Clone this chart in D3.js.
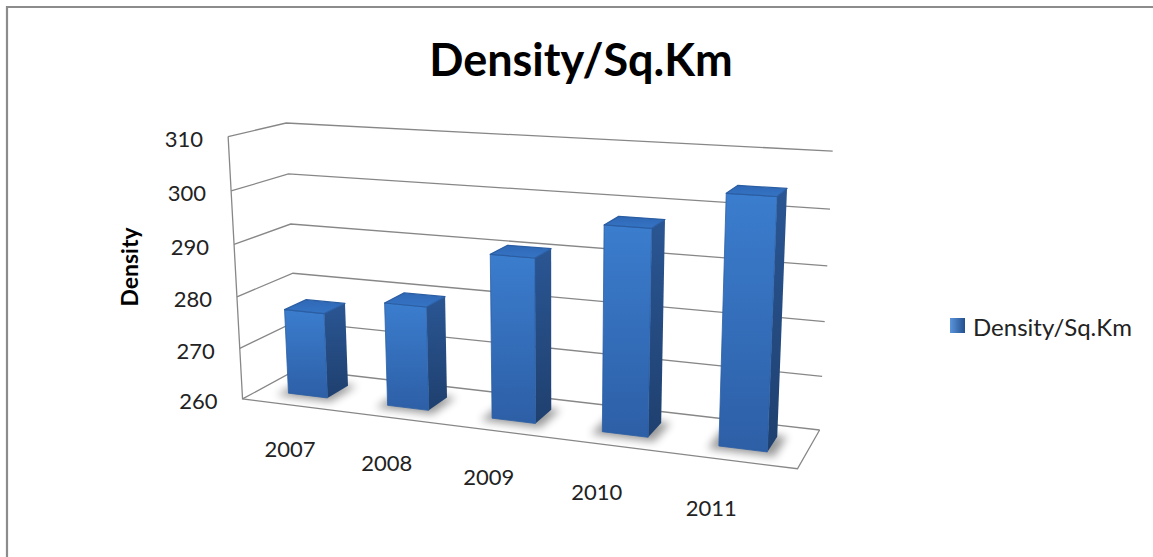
<!DOCTYPE html>
<html>
<head>
<meta charset="utf-8">
<script src="https://cdn.jsdelivr.net/npm/d3@7"></script>
<style>
body { margin: 0; background: #fff; }
svg { display: block; font-family: Lato, "Open Sans", sans-serif; }
</style>
</head>
<body>
<div id="chart"></div>
<script>
// Data
var years = ["2007", "2008", "2009", "2010", "2011"];
var density = [276.6, 279.8, 290.6, 297.4, 304.2];
var yTicks = [260, 270, 280, 290, 300, 310];
var seriesName = "Density/Sq.Km";

// Measurement
var w = 1153, h = 557;

// where the corners of the 3D box sit on screen: [u, v, depth, x, y]
var anchors = [
	[0, 1, 0, 227, 138], [0, 0.8, 0, 231, 192], [0, 0.6, 0, 234, 244],
	[0, 0.4, 0, 237, 296], [0, 0.2, 0, 240, 347], [0, 0, 0, 243, 397],
	[0, 1, 1, 287, 123], [0, 0.8, 1, 288, 173], [0, 0.6, 1, 291, 223],
	[0, 0.4, 1, 293, 272], [0, 0.2, 1, 295, 323], [0, 0, 1, 297, 373],
	[1, 1, 1, 832, 152], [1, 0.8, 1, 830, 209], [1, 0.6, 1, 828, 266],
	[1, 0.4, 1, 826, 321], [1, 0.2, 1, 823, 375], [1, 0, 1, 817, 429],
	[1, 0, 0, 798, 471]
];

// fit a perspective camera (DLT) to the anchors
function solve(M, r) {
	var n = r.length, i, j, k;
	var a = M.map(function(row, i) { return row.concat([r[i]]); });
	for (k = 0; k < n; k++) {
		var p = k;
		for (i = k + 1; i < n; i++) if (Math.abs(a[i][k]) > Math.abs(a[p][k])) p = i;
		var t = a[k]; a[k] = a[p]; a[p] = t;
		for (i = k + 1; i < n; i++) {
			var f = a[i][k] / a[k][k];
			for (j = k; j <= n; j++) a[i][j] -= f * a[k][j];
		}
	}
	var x = new Array(n);
	for (i = n - 1; i >= 0; i--) {
		var s = a[i][n];
		for (j = i + 1; j < n; j++) s -= a[i][j] * x[j];
		x[i] = s / a[i][i];
	}
	return x;
}

function fitCamera(pts) {
	var A = [], b = [];
	pts.forEach(function(p) {
		var u = p[0], v = p[1], z = p[2], x = p[3], y = p[4];
		A.push([u, v, z, 1, 0, 0, 0, 0, -x * u, -x * v, -x * z]); b.push(x);
		A.push([0, 0, 0, 0, u, v, z, 1, -y * u, -y * v, -y * z]); b.push(y);
	});
	var M = [], r = [];
	for (var i = 0; i < 11; i++) {
		M.push([]);
		r.push(d3.sum(A, function(row, k) { return row[i] * b[k]; }));
		for (var j = 0; j < 11; j++) M[i].push(d3.sum(A, function(row) { return row[i] * row[j]; }));
	}
	return solve(M, r);
}

var P = fitCamera(anchors);

function project(u, v, z) {
	var d = P[8] * u + P[9] * v + P[10] * z + 1;
	return [(P[0] * u + P[1] * v + P[2] * z + P[3]) / d,
			(P[4] * u + P[5] * v + P[6] * z + P[7]) / d];
}

// Scaling
var xScale = d3.scaleBand()
	.domain(years)
	.range([0, 1])
	.paddingInner(0.6)
	.paddingOuter(0.3);

var yScale = d3.scaleLinear()
	.domain([260, 310])
	.range([0, 1]);

var zFront = 0.3, zBack = 0.7;

var line = d3.line();
function quad(pts) { return line(pts.map(function(p) { return project(p[0], p[1], p[2]); })) + "Z"; }

// SVG Container
var svg = d3.select("#chart")
	.append("svg")
	.attr("width", w)
	.attr("height", h);

var defs = svg.append("defs");

function grad(id, c1, c2, horizontal) {
	var g = defs.append("linearGradient").attr("id", id)
		.attr("x1", 0).attr("y1", 0)
		.attr("x2", horizontal ? 1 : 0).attr("y2", horizontal ? 0 : 1);
	g.append("stop").attr("offset", "0%").attr("stop-color", c1);
	g.append("stop").attr("offset", "100%").attr("stop-color", c2);
}
grad("gFront", "#3b7dce", "#2d5fa6");
grad("gSide", "#2a5693", "#1f406f");
grad("gTop", "#2f68b6", "#3574c4");
grad("gKey", "#5b95dc", "#234f8e", true);

defs.append("filter").attr("id", "blur")
	.attr("x", "-50%").attr("y", "-50%").attr("width", "200%").attr("height", "200%")
	.append("feGaussianBlur").attr("stdDeviation", 4);

// chart frame
svg.append("path")
	.attr("d", "M7,560V7H1160")
	.attr("fill", "none")
	.attr("stroke", "#8c8c8c")
	.attr("stroke-width", 2.2);

// Title
svg.append("text")
	.attr("x", 581)
	.attr("y", 76)
	.attr("text-anchor", "middle")
	.attr("font-size", 45)
	.attr("font-weight", 700)
	.attr("fill", "#000")
	.text(seriesName);

// walls: gridlines run along the side wall then the back wall
var walls = svg.append("g")
	.attr("fill", "none")
	.attr("stroke", "#878787")
	.attr("stroke-width", 1.3);

walls.selectAll(".grid")
	.data(yTicks)
	.enter()
	.append("path")
	.attr("class", "grid")
	.attr("d", function(d) {
		var v = yScale(d);
		return line([project(0, v, 0), project(0, v, 1), project(1, v, 1)]);
	});

walls.append("path")
	.attr("d", line([project(0, 1, 0), project(0, 0, 0), project(1, 0, 0), project(1, 0, 1)]));

// y tick labels
svg.selectAll(".ytick")
	.data(yTicks)
	.enter()
	.append("text")
	.attr("class", "ytick")
	.attr("x", function(d) { return project(0, yScale(d), 0)[0] - 25; })
	.attr("y", function(d) { return project(0, yScale(d), 0)[1] + 2; })
	.attr("text-anchor", "end")
	.attr("dominant-baseline", "central")
	.attr("font-size", 22)
	.attr("fill", "#222")
	.text(function(d) { return d; });

svg.append("text")
	.attr("transform", "translate(129,267) rotate(-90)")
	.attr("text-anchor", "middle")
	.attr("dominant-baseline", "central")
	.attr("font-size", 23)
	.attr("font-weight", 700)
	.attr("fill", "#000")
	.text("Density");

var rows = years.map(function(y, i) { return { year: y, value: density[i] }; });
var bw = xScale.bandwidth();

// floor shadows
svg.selectAll(".shadow")
	.data(rows)
	.enter()
	.append("path")
	.attr("class", "shadow")
	.attr("d", function(d) {
		var u0 = xScale(d.year) - 0.014, u1 = xScale(d.year) + bw + 0.015;
		return quad([[u0, 0, zFront - 0.09], [u1, 0, zFront - 0.09], [u1, 0, zBack + 0.03], [u0, 0, zBack + 0.03]]);
	})
	.attr("fill", "#000")
	.attr("opacity", 0.4)
	.attr("filter", "url(#blur)");

// bars
var bars = svg.selectAll(".bar")
	.data(rows)
	.enter()
	.append("g")
	.attr("class", "bar");

bars.append("path")
	.attr("d", function(d) {
		var u0 = xScale(d.year), u1 = u0 + bw, v = yScale(d.value);
		return quad([[u1, 0, zFront], [u1, 0, zBack], [u1, v, zBack], [u1, v, zFront]]);
	})
	.attr("fill", "url(#gSide)");

bars.append("path")
	.attr("d", function(d) {
		var u0 = xScale(d.year), u1 = u0 + bw, v = yScale(d.value);
		return quad([[u0, 0, zFront], [u1, 0, zFront], [u1, v, zFront], [u0, v, zFront]]);
	})
	.attr("fill", "url(#gFront)")
	.attr("stroke", "#2b5ea3")
	.attr("stroke-width", 0.8)
	.attr("stroke-linejoin", "round");

bars.append("path")
	.attr("d", function(d) {
		var u0 = xScale(d.year), u1 = u0 + bw, v = yScale(d.value);
		return quad([[u0, v, zFront], [u1, v, zFront], [u1, v, zBack], [u0, v, zBack]]);
	})
	.attr("fill", "url(#gTop)")
	.attr("stroke", "#2a5da2")
	.attr("stroke-width", 1.2)
	.attr("stroke-linejoin", "round");

// category labels sit in front of the floor, drawn a bit closer together
var labelSpread = d3.scaleLinear().domain([500, 600]).range([502.6, 595.6]);
function labelPos(d) {
	var p = project(xScale(d) + bw / 2, 0, -0.35);
	return [labelSpread(p[0]), p[1] + 32];
}

svg.selectAll(".xlabel")
	.data(years)
	.enter()
	.append("text")
	.attr("class", "xlabel")
	.attr("x", function(d) { return labelPos(d)[0]; })
	.attr("y", function(d) { return labelPos(d)[1]; })
	.attr("text-anchor", "middle")
	.attr("dominant-baseline", "central")
	.attr("font-size", 22)
	.attr("fill", "#222")
	.text(function(d) { return d; });

// Legend
var legend = svg.append("g").attr("transform", "translate(950,318)");
legend.append("rect")
	.attr("width", 15)
	.attr("height", 15)
	.attr("fill", "url(#gKey)");
legend.append("text")
	.attr("x", 23)
	.attr("y", 8)
	.attr("dominant-baseline", "central")
	.attr("font-size", 24)
	.attr("fill", "#222")
	.text(seriesName);
</script>
</body>
</html>
